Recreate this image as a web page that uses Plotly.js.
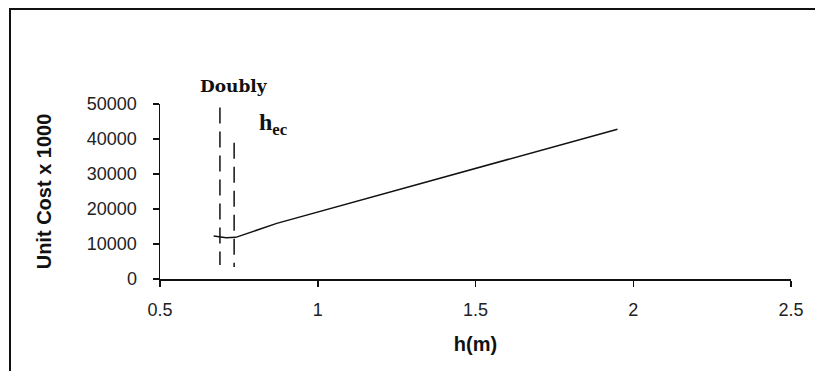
<!DOCTYPE html>
<html>
<head>
<meta charset="utf-8">
<script src="https://cdn.plot.ly/plotly-3.0.1.min.js"></script>
<style>
  body { margin: 0; background: #fff; }
  #chart { position: absolute; left: 0; top: 0; width: 815px; height: 371px; }
  #frame { position: absolute; left: 9px; top: 8px; width: 900px; height: 500px;
           border-top: 2px solid #111; border-left: 2px solid #111; pointer-events: none; }
</style>
</head>
<body>
<div id="chart"></div>
<div id="frame"></div>
<script>
// unit cost curve
var hValues = [0.67, 0.71, 0.74, 0.87, 1.95];
var costValues = [12300, 11800, 11900, 15900, 42800];

// the two dashed markers (Doubly, h_ec)
var markerX = [0.69, 0.735];
var markerTop = [49000, 38900];
var markerBottom = [4000, 3400];

var xTicks = [0.5, 1, 1.5, 2, 2.5];
var yTicks = [0, 10000, 20000, 30000, 40000, 50000];

var cost = {
    x: hValues,
    y: costValues,
    mode: 'lines',
    line: {color: '#111', width: 1.5},
    hoverinfo: 'skip'
};

var traces = [cost];
for (var i = 0; i < markerX.length; i++) {
    traces.push({
        x: [markerX[i], markerX[i]],
        y: [markerTop[i], markerBottom[i]],
        mode: 'lines',
        line: {color: '#111', width: 1.5, dash: '16px,8px'},
        hoverinfo: 'skip'
    });
}

var tickFont = {family: 'Liberation Sans, Arial, sans-serif', size: 18, color: '#222'};
var titleFont = {family: 'Liberation Sans, Arial, sans-serif', size: 20, color: '#111'};

var layout = {
    width: 815,
    height: 371,
    margin: {l: 160, r: 24, t: 104, b: 92},
    paper_bgcolor: '#fff',
    plot_bgcolor: '#fff',
    showlegend: false,
    xaxis: {
        range: [0.5, 2.5],
        tickvals: xTicks,
        ticktext: xTicks.map(String),
        showgrid: false,
        zeroline: false,
        showline: true,
        linecolor: '#111',
        linewidth: 1.5,
        ticks: 'outside',
        ticklen: 6,
        tickwidth: 1.5,
        tickcolor: '#111',
        ticklabelstandoff: 8,
        tickfont: tickFont,
        title: {text: '<b>h(m)</b>', font: titleFont, standoff: 18}
    },
    yaxis: {
        range: [0, 50000],
        tickvals: yTicks,
        ticktext: yTicks.map(String),
        showgrid: false,
        zeroline: false,
        showline: true,
        linecolor: '#111',
        linewidth: 1.5,
        ticks: 'outside',
        ticklen: 6,
        tickwidth: 1.5,
        tickcolor: '#111',
        ticklabelstandoff: 12,
        tickfont: tickFont,
        title: {text: '<b>Unit Cost x 1000</b>', font: titleFont, standoff: 30}
    },
    annotations: [
        {
            x: 0.734, y: 1.103, xref: 'x', yref: 'paper', yanchor: 'middle',
            text: '<b>Doubly</b>', showarrow: false,
            font: {family: 'DejaVu Serif, serif', size: 17, color: '#111'}
        },
        {
            x: 0.86, y: 44300, xref: 'x', yref: 'y',
            text: '<b>h<sub>ec</sub></b>', showarrow: false,
            font: {family: 'Liberation Serif, Times New Roman, serif', size: 24, color: '#111'}
        }
    ]
};

Plotly.newPlot('chart', traces, layout, {displayModeBar: false, staticPlot: true});
</script>
</body>
</html>
